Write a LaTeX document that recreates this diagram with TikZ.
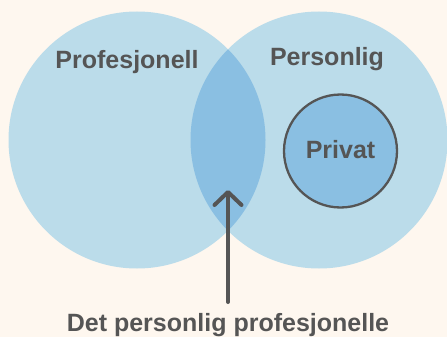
\documentclass[tikz,border=0pt]{standalone}
\usepackage{fontspec}
\setmainfont{Liberation Sans}
\usetikzlibrary{arrows.meta}
\definecolor{cream}{HTML}{FEF7EF}
\definecolor{lightblue}{HTML}{BBDCEA}
\definecolor{midblue}{HTML}{8ABFE2}
\definecolor{darkgray}{HTML}{555555}
\tikzset{
    sphere/.style={circle, fill=lightblue, minimum size=257pt, inner sep=0pt}, % preset style for a big circle
    tag/.style={font=\fontsize{25}{30}\bfseries\selectfont, text=darkgray, inner sep=0pt, anchor=base},
    pointer/.style={draw=darkgray, line width=4pt, line cap=round,
        -{Straight Barb[length=13pt, width=27pt, round]}}, % preset style for the arrow
}
\begin{document}
\begin{tikzpicture}[x=1pt, y=-1pt]
        \fill[cream] (0, 0) rectangle (447, 337);
        \useasboundingbox (0, 0) rectangle (447, 337);
        \node[sphere] (prof) at (137, 140) {};
        \node[sphere] (pers) at (319, 140) {};
        \begin{scope}
            \clip (137, 140) circle (128.5);
            \fill[midblue] (319, 140) circle (128.5);
        \end{scope}
        \node[circle, fill=midblue, draw=darkgray, line width=2.3pt, minimum size=113pt] (priv) at (340.5, 151) {};
        \node[tag] (proftext) at (127, 68) {Profesjonell};
        \node[tag] (perstext) at (327, 66) {Personlig};
        \node[tag] (privtext) at (priv.center |- 0, 158) {Privat};
        \node[tag] (caption) at (228, 331) {Det personlig profesjonelle};
        \coordinate (tail) at (228, 302);
        \coordinate (tip) at (228, 190);
        \draw[pointer] (tail) -- (tip);
    \end{tikzpicture}
\end{document}
